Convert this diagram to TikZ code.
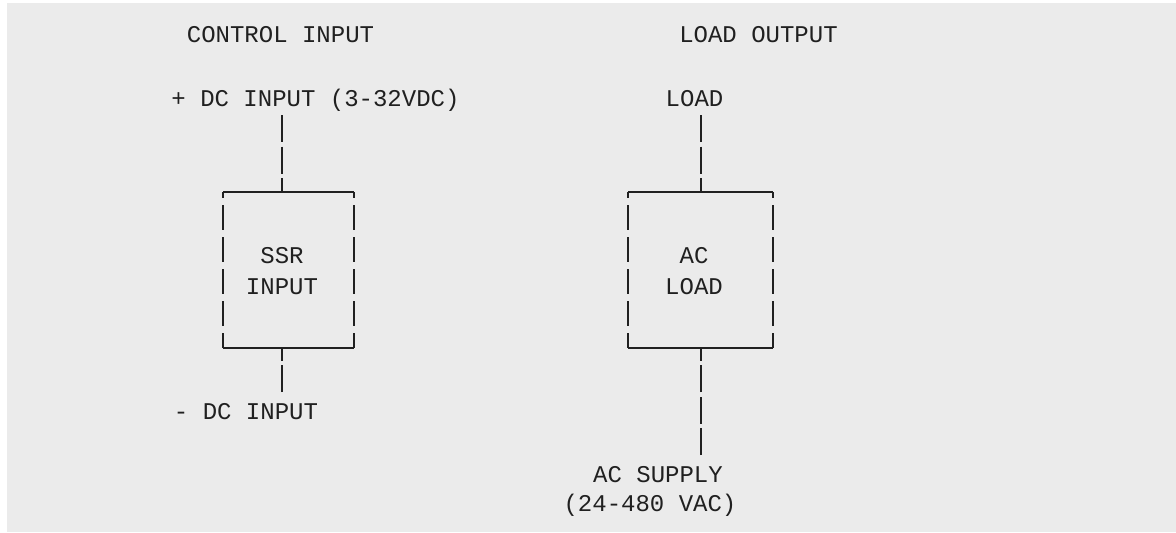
\documentclass[tikz,border=0pt]{standalone}
\usepackage{fontspec}
\setmonofont{Liberation Mono}
\usepackage{tikz}
\usetikzlibrary{positioning,calc}
\usepackage{xcolor}
\definecolor{panelgray}{RGB}{235,235,235}
\definecolor{inkdark}{RGB}{32,32,32}

\begin{document}
\begin{tikzpicture}[x=1pt, y=1pt,
        every node/.style={font=\ttfamily\fontsize{24}{31}\selectfont, text=inkdark, inner sep=0pt},
        lbl/.style={anchor=base},
        box/.style={inner sep=0pt, outer sep=0pt, minimum height=156pt},
        rim/.style={draw=inkdark, line width=1.5pt},
        side/.style={draw=inkdark, line width=1.8pt, dash pattern=on 25pt off 7pt, dash phase=19pt},
        wire/.style={draw=inkdark, line width=1.8pt, dash pattern=on 27pt off 4.5pt}]
        % panel
        \fill[white] (0,0) rectangle (1176,-533);
        \fill[panelgray] (7,-3) rectangle (1176,-532);
        \useasboundingbox (0,0) rectangle (1176,-533);
        % headings
        \node[lbl] (ctlhead) at (280.5,-42) {CONTROL INPUT};
        \node[lbl] (loadhead) at (758.5,-42) {LOAD OUTPUT};
        % control side
        \node[lbl] (plusdc) at (315.5,-106) {+ DC INPUT (3-32VDC)};
        \node[box, minimum width=131pt] (ssr) at (288.5,-270) {};
        \node[align=center] (ssrtxt) at (282,-271) {SSR\\INPUT};
        \node[lbl] (minusdc) at (246,-419) {- DC INPUT};
        % load side
        \node[lbl] (loadlbl) at (694.5,-106) {LOAD};
        \node[box, minimum width=145pt] (acl) at (700.5,-270) {};
        \node[align=center] (acltxt) at (694,-271) {AC\\LOAD};
        \node[lbl] (acsup) at (658,-482) {AC SUPPLY};
        \node[lbl] (acrange) at (650,-511) {(24-480 VAC)};
        % box outlines
        \foreach \b in {ssr,acl}{
          \draw[rim] (\b.north west) -- (\b.north east);
          \draw[rim] (\b.south west) -- (\b.south east);
          \draw[side] (\b.north west) -- (\b.south west);
          \draw[side] (\b.north east) -- (\b.south east);
        }
        % wires
        \coordinate (ctltop) at (282,-115);
        \coordinate (ctlbot) at (282,-392);
        \coordinate (loadtop) at (701,-115);
        \coordinate (suptop) at (701,-455);
        \draw[wire] (ctltop) -- (ctltop |- ssr.north);
        \draw[wire] (ctlbot) -- (ctlbot |- ssr.south);
        \draw[wire] (loadtop) -- (loadtop |- acl.north);
        \draw[wire] (suptop) -- (suptop |- acl.south);
      \end{tikzpicture}
\end{document}
